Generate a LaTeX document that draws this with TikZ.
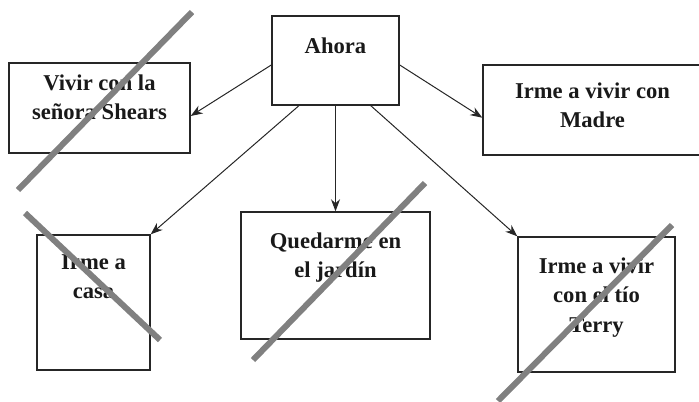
\documentclass[tikz,border=0pt]{standalone}
\usepackage{fontspec}
\setmainfont{Liberation Serif}
\usetikzlibrary{positioning, arrows.meta}

\tikzset{
	opcion/.style={draw=black!85, line width=0.7pt},
	texto/.style={font=\bfseries\fontsize{11.3}{14.7}\selectfont, align=center, inner sep=0pt, text=black!90},
	flecha/.style={->, >={Stealth[length=6pt, width=4.5pt]}, line width=0.5pt, draw=black!85},
	tachado/.style={line width=3pt, draw=black!50}
}

\begin{document}
\begin{tikzpicture}[x=0.5pt, y=-0.5pt]
			\useasboundingbox (0, 0) rectangle (699, 401);
			% cajas
			\draw
			node[opcion,minimum width=63.5pt,minimum height=44.5pt] (ahora) at (335.5, 60.5){}
			node[opcion,minimum width=90.5pt,minimum height=45pt] (vivir) at (99.5, 108){}
			node[opcion,minimum width=109.5pt,minimum height=45pt] (madre) at (592.5, 110){}
			node[opcion,minimum width=56.5pt,minimum height=67.5pt] (casa) at (93.5, 302.5){}
			node[opcion,minimum width=94.5pt,minimum height=63.5pt] (quedarme) at (335.5, 275.5){}
			node[opcion,minimum width=78.5pt,minimum height=67.5pt] (terry) at (596.5, 304.5){};
			% textos
			\node[texto, below=11pt of ahora.north] (ahora_txt) {Ahora};
			\node[texto, below=6pt of vivir.north] (vivir_txt) {Vivir con la\\señora Shears};
			\node[texto, below=9pt of madre.north] (madre_txt) {Irme a vivir con\\Madre};
			\node[texto, below=10pt of casa.north] (casa_txt) {Irme a\\casa};
			\node[texto, below=10.5pt of quedarme.north] (quedarme_txt) {Quedarme en\\el jardín};
			\node[texto, below=10.5pt of terry.north] (terry_txt) {Irme a vivir\\con el tío\\Terry};
			% flechas
			\draw [flecha] (ahora.184) -- (vivir.-5);
			\draw [flecha] (ahora.-4) -- (madre.184);
			\draw [flecha] (ahora.231) -- (casa.north east);
			\draw [flecha] (ahora.south) -- (quedarme.north);
			\draw [flecha] (ahora.-52) -- (terry.north west);
			% tachados
			\draw [tachado] (192, 12) -- (18, 190);
			\draw [tachado] (25, 213) -- (160, 340);
			\draw [tachado] (253, 360) -- (425, 183);
			\draw [tachado] (672, 225) -- (498, 401);
		\end{tikzpicture}
\end{document}
